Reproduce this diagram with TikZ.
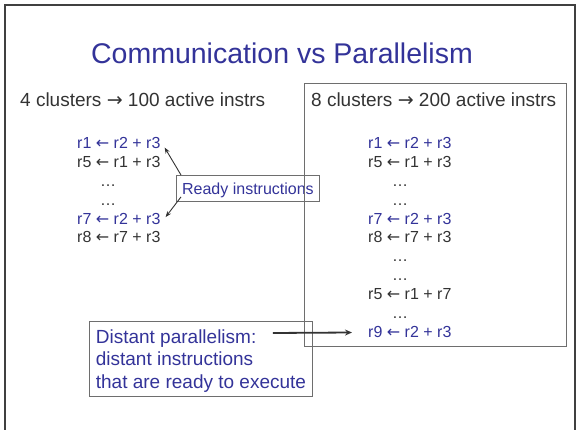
\documentclass[tikz,border=0pt]{standalone}
\usepackage{fontspec}
\setmainfont{Liberation Sans}
\newfontfamily\arrowfont{DejaVu Sans}
\usetikzlibrary{arrows.meta,calc}
\definecolor{ttlblue}{HTML}{333399}
\definecolor{ink}{HTML}{333333}
\definecolor{framegray}{HTML}{404040}
\definecolor{boxgray}{HTML}{6E6E6E}
\newcommand{\asgn}{{\arrowfont ←}}
\newcommand{\yields}{{\arrowfont →}}
\begin{document}
\begin{tikzpicture}[x=1pt,y=-1pt,
  txt/.style={inner sep=0pt, anchor=base west, text=ink},
  code/.style={txt, font=\fontsize{16}{19}\selectfont},
  hot/.style={text=ttlblue},
  head/.style={txt, font=\fontsize{19}{22}\selectfont},
  box/.style={draw=boxgray, line width=0.9pt, inner sep=0pt},
  pointer/.style={draw=ink, line width=0.9pt, -{Stealth[length=6pt,width=4.5pt]}},
  bigpointer/.style={draw=ink, line width=1.8pt, -{Stealth[length=7pt,width=6pt]}},
]
\useasboundingbox (0,0) rectangle (576,430);
\clip (0,0) rectangle (576,430);

% slide frame
\draw[framegray, line width=2pt] (5,434) -- (5,5) -- (575,5) -- (575,434);

% title
\node[inner sep=0pt, anchor=base, text=ttlblue, font=\fontsize{28.5}{30}\selectfont]
  (title) at (282,64) {Communication vs Parallelism};

% column headings
\node[head] (lhead) at (20,107) {4 clusters \yields{} 100 active instrs};
\node[head] (rhead) at (311,107) {8 clusters \yields{} 200 active instrs};

% left window: 4 clusters
\node[code, hot] (a1) at (77,148.5) {r1 \asgn{} r2 + r3};
\node[code]      (a2) at (77,167.4) {r5 \asgn{} r1 + r3};
\node[code]      (a3) at (100,186.3) {…};
\node[code]      (a4) at (100,205.2) {…};
\node[code, hot] (a5) at (77,224.1) {r7 \asgn{} r2 + r3};
\node[code]      (a6) at (77,243) {r8 \asgn{} r7 + r3};

% right window: 8 clusters
\node[code, hot] (b1) at (368,148.5) {r1 \asgn{} r2 + r3};
\node[code]      (b2) at (368,167.4) {r5 \asgn{} r1 + r3};
\node[code]      (b3) at (392,186.3) {…};
\node[code]      (b4) at (392,205.2) {…};
\node[code, hot] (b5) at (368,224.1) {r7 \asgn{} r2 + r3};
\node[code]      (b6) at (368,243) {r8 \asgn{} r7 + r3};
\node[code]      (b7) at (392,261.9) {…};
\node[code]      (b8) at (392,280.8) {…};
\node[code]      (b9) at (368,299.7) {r5 \asgn{} r1 + r7};
\node[code]      (b10) at (392,318.6) {…};
\node[code, hot] (b11) at (368,337.5) {r9 \asgn{} r2 + r3};

% callout for ready instructions
\node[box, anchor=north west, minimum width=143pt, text=ttlblue,
  font=\fontsize{16}{19}\selectfont]
  (ready) at (176,175) {\rule[-7pt]{0pt}{26pt}Ready instructions};
\draw[pointer] ($(ready.north west)+(5,0)$) -- ($(a1.base east)+(4,-1)$);
\draw[pointer] ($(ready.south west)+(5,-5)$) -- ($(a5.base east)+(5,-7)$);

% 8-cluster window outline
\node[box, anchor=north west, minimum width=262pt, minimum height=263pt]
  (rbox) at (304,83) {};

% callout for distant parallelism
\node[box, anchor=north west, minimum width=223pt, align=left,
  text=ttlblue, font=\fontsize{19}{22.5}\selectfont]
  (dist) at (89,321)
  {\rule{0pt}{22pt}Distant parallelism:\\distant instructions\\that are ready to execute\rule[-8pt]{0pt}{8pt}};
\draw[bigpointer] ($(dist.north east)+(-40,12)$) -- ($(b11.base west)+(-16,-5)$);
\end{tikzpicture}
\end{document}
